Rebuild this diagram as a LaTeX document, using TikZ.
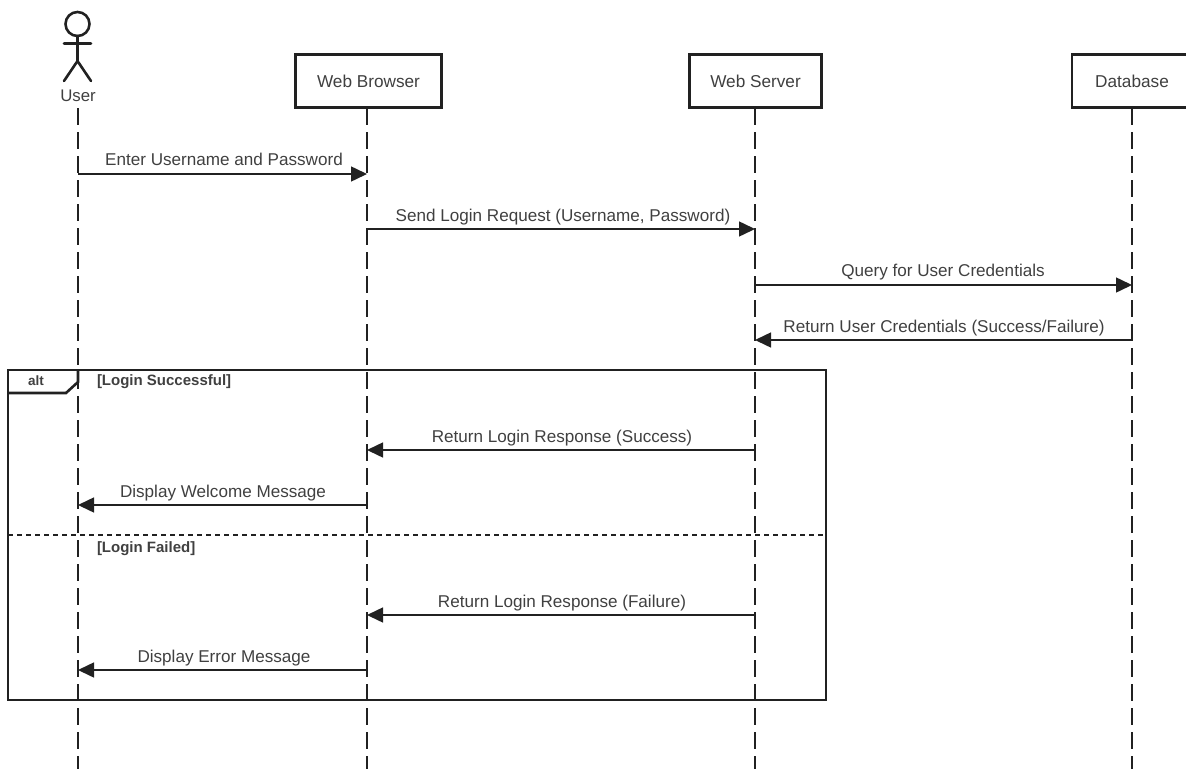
\documentclass[tikz,border=0pt]{standalone}
\usepackage{fontspec}
\setmainfont{Liberation Sans}
\usetikzlibrary{arrows.meta}
\definecolor{ink}{gray}{0.13}
\definecolor{txt}{gray}{0.25}
\tikzset{
  x=1pt,y=-1pt,
  every node/.style={inner sep=0pt,outer sep=0pt,text=txt},
  lifebox/.style={draw=ink,line width=2.8pt,fill=white,minimum height=53pt,font=\fontsize{17.2}{19}\selectfont},
  lifeline/.style={draw=ink,line width=1.5pt,dash pattern=on 17pt off 7pt},
  msg/.style={draw=ink,line width=1.5pt,-{Triangle[length=16pt,width=15pt]}},
  msglabel/.style={font=\fontsize{17.1}{19}\selectfont,anchor=base},
  guard/.style={font=\bfseries\fontsize{15}{16}\selectfont,anchor=base west},
  frameline/.style={draw=ink,line width=2.6pt},
  actorline/.style={draw=ink,line width=2.6pt,line cap=round}
}
\begin{document}
\begin{tikzpicture}
\clip (0,0) rectangle (1186,771);
% participants
\node[lifebox,minimum width=146pt] (browser) at (368.5,81) {Web Browser};
\node[lifebox,minimum width=132pt] (server) at (755.5,81) {Web Server};
\node[lifebox,minimum width=120pt,anchor=center] (db) at (1132,81) {Database};
\node[font=\fontsize{16.8}{18}\selectfont] (user) at (78,96) {User};
% actor
\coordinate (hd) at (77.5,24);
\draw[actorline] (hd) circle (12);
\coordinate (neck) at (77.5,36);
\coordinate (hip) at (77.5,61);
\coordinate (armL) at (64,43.5);
\coordinate (armR) at (91,43.5);
\coordinate (legL) at (64,81);
\coordinate (legR) at (91,81);
\draw[actorline] (neck) -- (hip) (armL) -- (armR) (legL) -- (hip) -- (legR);
% lifeline ends
\coordinate (uEnd) at (78,769);
\coordinate (bEnd) at (367,769);
\coordinate (sEnd) at (755,769);
\coordinate (dEnd) at (1132,769);
\coordinate (uTop) at (78,108);
\coordinate (bTop) at (367,108);
\coordinate (sTop) at (755,108);
\coordinate (dTop) at (1132,108);
\draw[lifeline] (uTop) -- (uEnd);
\draw[lifeline] (bTop) -- (bEnd);
\draw[lifeline] (sTop) -- (sEnd);
\draw[lifeline] (dTop) -- (dEnd);
% frame
\coordinate (fTL) at (8,370);
\coordinate (fBR) at (826,700);
\draw[frameline] (fTL) rectangle (fBR);
\coordinate (tabA) at (78,370);
\coordinate (tabB) at (78,382);
\coordinate (tabC) at (66,393);
\coordinate (tabD) at (8,393);
\draw[frameline] (tabA) -- (tabB) -- (tabC) -- (tabD);
\node[font=\bfseries\fontsize{13.5}{15}\selectfont] (alt) at (36,381) {alt};
\node[guard] (g1) at (97,385) {[Login Successful]};
\coordinate (dL) at (8,535);
\coordinate (dR) at (826,535);
\draw[draw=ink,line width=2.2pt,dash pattern=on 5pt off 4pt] (dL) -- (dR);
\node[guard] (g2) at (97,552) {[Login Failed]};
% messages
\coordinate (m1a) at (78,174);\coordinate (m1b) at (367,174);
\draw[msg] (m1a) -- (m1b);
\node[msglabel] (t1) at (224,165) {Enter Username and Password};
\coordinate (m2a) at (367,229);\coordinate (m2b) at (755,229);
\draw[msg] (m2a) -- (m2b);
\node[msglabel] (t2) at (563,221) {Send Login Request (Username, Password)};
\coordinate (m3a) at (755,285);\coordinate (m3b) at (1132,285);
\draw[msg] (m3a) -- (m3b);
\node[msglabel] (t3) at (943,276) {Query for User Credentials};
\coordinate (m4a) at (1132,340);\coordinate (m4b) at (755,340);
\draw[msg] (m4a) -- (m4b);
\node[msglabel] (t4) at (944,332) {Return User Credentials (Success/Failure)};
\coordinate (m5a) at (755,450);\coordinate (m5b) at (367,450);
\draw[msg] (m5a) -- (m5b);
\node[msglabel] (t5) at (562,442) {Return Login Response (Success)};
\coordinate (m6a) at (367,505);\coordinate (m6b) at (78,505);
\draw[msg] (m6a) -- (m6b);
\node[msglabel] (t6) at (223,497) {Display Welcome Message};
\coordinate (m7a) at (755,615);\coordinate (m7b) at (367,615);
\draw[msg] (m7a) -- (m7b);
\node[msglabel] (t7) at (562,607) {Return Login Response (Failure)};
\coordinate (m8a) at (367,670);\coordinate (m8b) at (78,670);
\draw[msg] (m8a) -- (m8b);
\node[msglabel] (t8) at (224,662) {Display Error Message};
\end{tikzpicture}
\end{document}
